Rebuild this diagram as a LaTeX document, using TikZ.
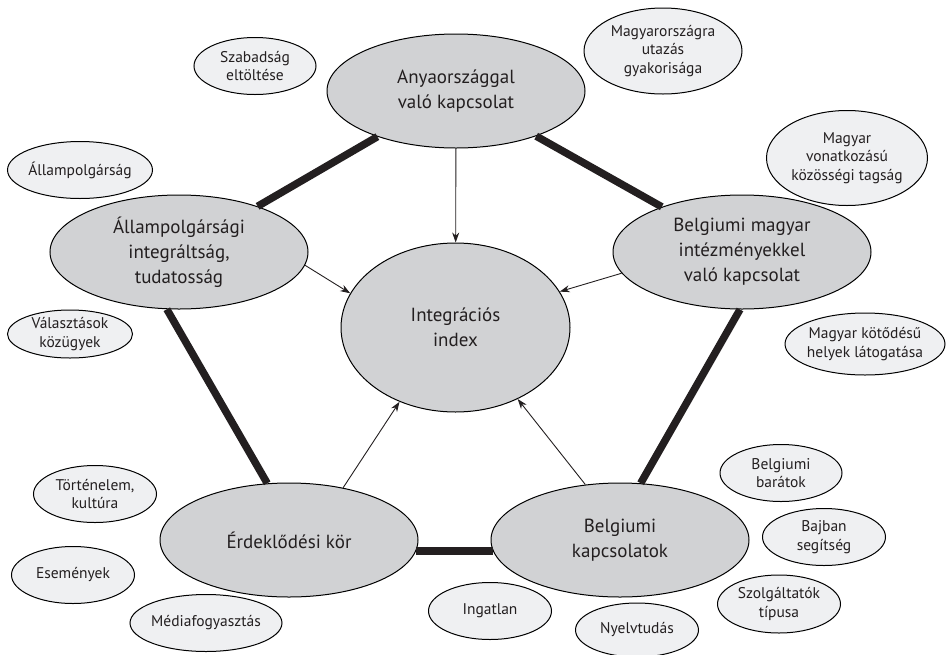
\documentclass[tikz,border=0pt]{standalone}
\usepackage{fontspec}
\setmainfont{PT Sans}
\usetikzlibrary{shapes.geometric,arrows.meta}
\definecolor{bigfill}{HTML}{D1D2D4}
\definecolor{smallfill}{HTML}{EFF0F2}
\definecolor{txt}{HTML}{231F20}
\tikzset{
  bigE/.style={ellipse, draw=black, line width=1pt, fill=bigfill, inner sep=0pt, minimum width=258pt, minimum height=114pt},
  bigT/.style={font=\fontsize{19}{25}\selectfont, align=center, text=txt, inner sep=0pt},
  smallE/.style={ellipse, draw=black, line width=1pt, fill=smallfill, inner sep=0pt},
  smallT/.style={font=\fontsize{15.5}{18.5}\selectfont, align=center, text=txt, inner sep=0pt},
  pent/.style={line width=7.5pt, draw=txt},
  arr/.style={line width=0.9pt, draw=txt, -{Stealth[length=10pt,width=7pt]}}
}
\begin{document}
\begin{tikzpicture}[x=1pt,y=-1pt]
\useasboundingbox (0,0) rectangle (946,654);
% large ellipses
\node[bigE, label={[bigT]center:{Anyaországgal\\való kapcsolat}}] (anya) at (456,91) {};
\node[bigE, label={[bigT]center:{Állampolgársági\\integráltság,\\tudatosság}}] (allam) at (179,252) {};
\node[bigE, label={[bigT]center:{Belgiumi magyar\\intézményekkel\\való kapcsolat}}] (bmagyar) at (742,252) {};
\node[bigE, minimum width=229pt, minimum height=169pt, label={[bigT]center:{Integrációs\\index}}] (index) at (455.5,327.5) {};
\node[bigE, label={[bigT]center:{Érdeklődési kör}}] (erdek) at (289,540) {};
\node[bigE, label={[bigT]center:{Belgiumi\\kapcsolatok}}] (bkapcs) at (620,540) {};
% small ellipses
\node[smallE, minimum width=122pt, minimum height=57pt, label={[smallT]center:{Szabadság\\eltöltése}}] (szab) at (255,66) {};
\node[smallE, minimum width=158pt, minimum height=86pt, label={[smallT]center:{Magyarországra\\utazás\\gyakorisága}}] (utaz) at (663,51) {};
\node[smallE, minimum width=145pt, minimum height=57pt, label={[smallT]center:{Állampolgárság}}] (allp) at (80,170) {};
\node[smallE, minimum width=161pt, minimum height=95pt, label={[smallT]center:{Magyar\\vonatkozású\\közösségi tagság}}] (kozos) at (847,158) {};
\node[smallE, minimum width=125pt, minimum height=48pt, label={[smallT]center:{Választások\\közügyek}}] (valas) at (70,334) {};
\node[smallE, minimum width=160pt, minimum height=62pt, label={[smallT]center:{Magyar kötődésű\\helyek látogatása}}] (kotod) at (865,344) {};
\node[smallE, minimum width=123pt, minimum height=57pt, label={[smallT]center:{Történelem,\\kultúra}}] (tort) at (95,494) {};
\node[smallE, minimum width=123pt, minimum height=57pt, label={[smallT]center:{Események}}] (esem) at (73,575) {};
\node[smallE, minimum width=152pt, minimum height=57pt, label={[smallT]center:{Médiafogyasztás}}] (media) at (206,623) {};
\node[smallE, minimum width=123pt, minimum height=57pt, label={[smallT]center:{Ingatlan}}] (ingat) at (490,611) {};
\node[smallE, minimum width=123pt, minimum height=54pt, label={[smallT]center:{Nyelvtudás}}] (nyelv) at (637,630) {};
\node[smallE, minimum width=122pt, minimum height=57pt, label={[smallT]center:{Belgiumi\\barátok}}] (barat) at (781,473) {};
\node[smallE, minimum width=123pt, minimum height=57pt, label={[smallT]center:{Bajban\\segítség}}] (bajb) at (824,537) {};
\node[smallE, minimum width=123pt, minimum height=58pt, label={[smallT]center:{Szolgáltatók\\típusa}}] (szolg) at (779,604) {};
% thick pentagon lines
\draw[pent] (anya) -- (allam);
\draw[pent] (anya) -- (bmagyar);
\draw[pent] (allam.258) -- (erdek.111);
\draw[pent] (bmagyar.268) -- (bkapcs.70);
\draw[pent] (erdek.-5) -- (bkapcs.185);
% arrows to index
\draw[arr] (anya) -- (index);
\draw[arr] (allam.-6) -- (index.162);
\draw[arr] (bmagyar.190) -- (index.19);
\draw[arr] (erdek.44) -- (index.233);
\draw[arr] (bkapcs.122) -- (index.311);
\end{tikzpicture}
\end{document}
